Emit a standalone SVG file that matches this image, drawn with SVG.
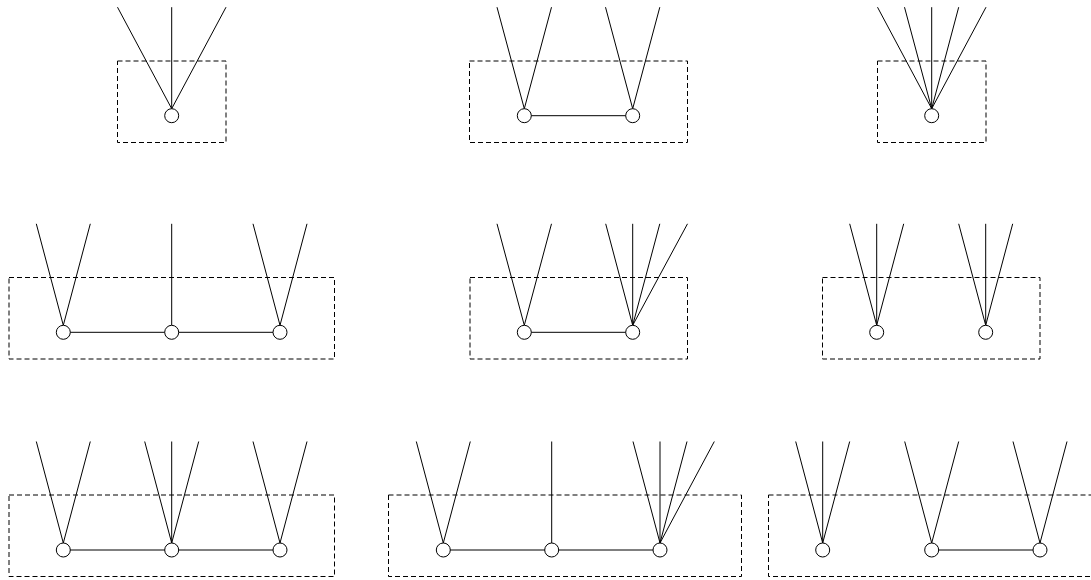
<svg xmlns="http://www.w3.org/2000/svg" width="1091" height="580" viewBox="0 0 1091 580">
<style>
.box{fill:none;stroke:#000;stroke-width:1;stroke-dasharray:5,3}
.e{stroke:#000;stroke-width:1;fill:none}
.n{fill:#fff;stroke:#000;stroke-width:1}
</style>
<rect width="1091" height="580" fill="#fff"/>
<g id="boxes">
<rect class="box" x="117.5" y="61" width="108.5" height="81.5"/>
<rect class="box" x="469.5" y="61" width="218" height="81.5"/>
<rect class="box" x="877.5" y="61" width="108.5" height="81.5"/>
<rect class="box" x="9" y="277.5" width="325.5" height="81.5"/>
<rect class="box" x="470" y="277.5" width="217.5" height="81.5"/>
<rect class="box" x="822.5" y="277.5" width="217.5" height="81.5"/>
<rect class="box" x="9" y="495" width="325.5" height="81.5"/>
<rect class="box" x="388.5" y="495" width="353" height="81.5"/>
<rect class="box" x="768.5" y="495" width="340" height="81.5"/>
</g>
<g id="connectors">
<!-- panel 1 -->
<path class="e" d="M117.5 7.2L171.7 108.7M171.7 7.2L171.7 108.7M226 7.2L171.7 108.7"/>
<!-- panel 2 -->
<path class="e" d="M497 7.2L524.3 108.7M551.5 7.2L524.3 108.7M605.5 7.2L632.7 108.7M659.8 7.2L632.7 108.7M524.3 115.7L632.7 115.7"/>
<!-- panel 3 -->
<path class="e" d="M877.5 7.2L931.7 108.7M904.5 7.2L931.7 108.7M931.7 7.2L931.7 108.7M958.7 7.2L931.7 108.7M986 7.2L931.7 108.7"/>
<!-- panel 4 -->
<path class="e" d="M36.3 223.8L63.3 325.3M90.3 223.8L63.3 325.3M171.7 223.8L171.7 325.3M253 223.8L280 325.3M307 223.8L280 325.3M63.3 332.3L280 332.3"/>
<!-- panel 5 -->
<path class="e" d="M497 223.8L524.3 325.3M551.5 223.8L524.3 325.3M605.7 223.8L632.7 325.3M632.7 223.8L632.7 325.3M659.8 223.8L632.7 325.3M687.5 223.8L632.7 325.3M524.3 332.3L632.7 332.3"/>
<!-- panel 6 -->
<path class="e" d="M849.7 223.8L876.7 325.3M876.7 223.8L876.7 325.3M903.7 223.8L876.7 325.3M958.7 223.8L985.7 325.3M985.7 223.8L985.7 325.3M1012.7 223.8L985.7 325.3"/>
<!-- panel 7 -->
<path class="e" d="M36.3 441.5L63.3 543M90.3 441.5L63.3 543M144.7 441.5L171.7 543M171.7 441.5L171.7 543M198.7 441.5L171.7 543M253 441.5L280 543M307 441.5L280 543M63.3 550L280 550"/>
<!-- panel 8 -->
<path class="e" d="M416.3 441.5L443.3 543M470.3 441.5L443.3 543M551.7 441.5L551.7 543M633 441.5L660 543M660 441.5L660 543M687 441.5L660 543M714.3 441.5L660 543M443.3 550L660 550"/>
<!-- panel 9 -->
<path class="e" d="M795.7 441.5L822.7 543M822.7 441.5L822.7 543M849.7 441.5L822.7 543M904.7 441.5L931.7 543M958.7 441.5L931.7 543M1013 441.5L1040 543M1067 441.5L1040 543M931.7 550L1040 550"/>
</g>
<g id="n1"><circle class="n" cx="171.7" cy="115.7" r="7"/></g>
<g id="n2"><circle class="n" cx="524.3" cy="115.7" r="7"/></g>
<g id="n3"><circle class="n" cx="632.7" cy="115.7" r="7"/></g>
<g id="n4"><circle class="n" cx="931.7" cy="115.7" r="7"/></g>
<g id="n5"><circle class="n" cx="63.3" cy="332.3" r="7"/></g>
<g id="n6"><circle class="n" cx="171.7" cy="332.3" r="7"/></g>
<g id="n7"><circle class="n" cx="280" cy="332.3" r="7"/></g>
<g id="n8"><circle class="n" cx="524.3" cy="332.3" r="7"/></g>
<g id="n9"><circle class="n" cx="632.7" cy="332.3" r="7"/></g>
<g id="n10"><circle class="n" cx="876.7" cy="332.3" r="7"/></g>
<g id="n11"><circle class="n" cx="985.7" cy="332.3" r="7"/></g>
<g id="n12"><circle class="n" cx="63.3" cy="550" r="7"/></g>
<g id="n13"><circle class="n" cx="171.7" cy="550" r="7"/></g>
<g id="n14"><circle class="n" cx="280" cy="550" r="7"/></g>
<g id="n15"><circle class="n" cx="443.3" cy="550" r="7"/></g>
<g id="n16"><circle class="n" cx="551.7" cy="550" r="7"/></g>
<g id="n17"><circle class="n" cx="660" cy="550" r="7"/></g>
<g id="n18"><circle class="n" cx="822.7" cy="550" r="7"/></g>
<g id="n19"><circle class="n" cx="931.7" cy="550" r="7"/></g>
<g id="n20"><circle class="n" cx="1040" cy="550" r="7"/></g>
</svg>
